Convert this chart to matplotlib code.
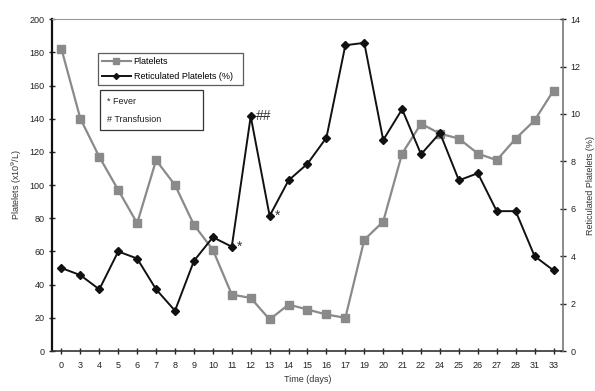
import matplotlib
matplotlib.use("Agg")
import matplotlib.pyplot as plt
from matplotlib.lines import Line2D
from matplotlib.patches import Rectangle

plt.rcParams['font.family'] = ['Liberation Sans', 'DejaVu Sans']

days = ["0", "3", "4", "5", "6", "7", "8", "9", "10", "11", "12", "13", "14",
        "15", "16", "17", "19", "20", "21", "22", "24", "25", "26", "27", "28",
        "31", "33"]
platelets = [182, 140, 117, 97, 77, 115, 100, 76, 61, 34, 32, 19, 28, 25, 22,
             20, 67, 78, 119, 137, 131, 128, 119, 115, 128, 139, 157]
reticulated = [3.5, 3.2, 2.6, 4.2, 3.9, 2.6, 1.7, 3.8, 4.8, 4.4, 9.9, 5.7, 7.2,
               7.9, 9.0, 12.9, 13.0, 8.9, 10.2, 8.3, 9.2, 7.2, 7.5, 5.9, 5.9,
               4.0, 3.4]
# (day index, symbol) markers for fever and transfusion events
events = [(9, "*"), (10, "##"), (11, "*")]

fig = plt.figure(figsize=(5.95, 3.91), dpi=100)
ax = fig.add_axes([0.0874, 0.1023, 0.8588, 0.8487])
ax2 = ax.twinx()

x = list(range(len(days)))
gray = "#8a8a8a"
ax.plot(x, platelets, color=gray, lw=1.6, marker="s", ms=5.5,
        mfc=gray, mec=gray, zorder=3)
ax2.plot(x, reticulated, color="#111111", lw=1.4, marker="D", ms=3.8,
         mfc="#111111", mec="#111111", zorder=3)

for i, sym in events:
    ax2.text(i + 0.25, reticulated[i], sym, fontsize=10, color="#333333",
             va="center", ha="left")

ax.set_xlim(-0.5, 26.5)
ax.set_ylim(0, 200)
ax2.set_ylim(0, 14)
ax.set_xticks(x)
ax.set_xticklabels(days)
ax.set_yticks(range(0, 201, 20))
ax2.set_yticks(range(0, 15, 2))

for a in (ax, ax2):
    a.tick_params(axis="both", labelsize=6.5, colors="#222222", length=5,
                  width=1, direction="inout", pad=3)
ax.tick_params(axis="x", pad=5)

ax.spines["left"].set_linewidth(1.6)
ax.spines["left"].set_color("#111111")
ax.spines["bottom"].set_linewidth(1.2)
ax.spines["bottom"].set_color("#333333")
ax.spines["top"].set_color("#999999")
ax.spines["right"].set_visible(False)
ax2.spines["right"].set_color("#777777")
ax2.spines["right"].set_linewidth(1.2)
for s in ("left", "top", "bottom"):
    ax2.spines[s].set_visible(False)

ax.set_ylabel("Platelets (x10$^9$/L)", fontsize=6.5, color="#333333", labelpad=4)
ax2.set_ylabel("Reticulated Platelets (%)", fontsize=6.5, color="#333333",
               labelpad=4, rotation=90)
ax.set_xlabel("Time (days)", fontsize=6.5, color="#333333", labelpad=3)

handles = [
    Line2D([], [], color=gray, lw=1.5, marker="s", ms=4, mfc=gray, mec=gray),
    Line2D([], [], color="#111111", lw=1.4, marker="D", ms=3, mfc="#111111"),
]
leg = ax.legend(handles, ["Platelets", "Reticulated Platelets (%)"],
                loc="upper left", bbox_to_anchor=(0.09, 0.801, 0.284, 0.097),
                mode="expand", fontsize=6.5, frameon=True, fancybox=False,
                edgecolor="#333333", borderpad=0.45, labelspacing=0.7,
                handlelength=3.2, handletextpad=0.3, borderaxespad=0)
leg.get_frame().set_linewidth(0.9)

# Key for the event symbols
ax.add_patch(Rectangle((0.094, 0.666), 0.201, 0.12, transform=ax.transAxes,
                       fc="white", ec="#333333", lw=0.9, zorder=4))
ax.text(0.107, 0.752, "* Fever", transform=ax.transAxes, fontsize=6.5,
        va="center", ha="left", color="#222222", zorder=5)
ax.text(0.107, 0.697, "# Transfusion", transform=ax.transAxes, fontsize=6.5,
        va="center", ha="left", color="#222222", zorder=5)

fig.savefig("out.png", dpi=100)
